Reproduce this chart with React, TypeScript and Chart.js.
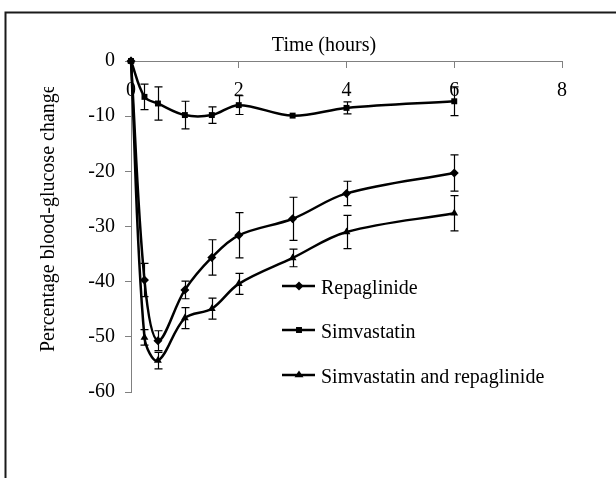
import React, { useEffect, useRef } from "react";
import { Chart, registerables } from "chart.js";

Chart.register(...registerables);

// ---- data ----
const hours = [0, 0.25, 0.5, 1, 1.5, 2, 3, 4, 6];
const seriesNames = ["Repaglinide", "Simvastatin", "Simvastatin and repaglinide"];
const repaglinide = [0, -39.7, -50.7, -41.5, -35.6, -31.6, -28.6, -24.0, -20.3];
const repaglinideErr = [0, 3.0, 1.8, 1.6, 3.2, 4.1, 3.9, 2.2, 3.3];
const simvastatin = [0, -6.5, -7.7, -9.8, -9.8, -8.0, -9.9, -8.5, -7.3];
const simvastatinErr = [0, 2.3, 3.0, 2.5, 1.5, 1.7, 0, 1.1, 2.6];
const combination = [0, -50.1, -54.3, -46.6, -44.9, -40.4, -35.7, -31.0, -27.6];
const combinationErr = [0, 1.4, 1.5, 1.9, 1.9, 1.9, 1.6, 3.0, 3.2];
const pointStyles = ["rectRot", "rect", "triangle"];
const xTitle = "Time (hours)";
const yTitle = "Percentage blood-glucose change";
const xMin = 0;
const xMax = 8;
const xStep = 2;
const yMin = -60;
const yMax = 0;
const yStep = 10;

const FONT = "'Liberation Serif', 'Times New Roman', serif";

const errorBarsPlugin = {
  id: "errorBars",
  afterDatasetsDraw(chart: any) {
    const ctx = chart.ctx;
    const yScale = chart.scales.y;
    ctx.save();
    ctx.strokeStyle = "#000";
    ctx.lineWidth = 1.2;
    chart.data.datasets.forEach((ds: any, di: number) => {
      const meta = chart.getDatasetMeta(di);
      const errs: number[] = ds.errors || [];
      meta.data.forEach((pt: any, i: number) => {
        const e = errs[i];
        if (!e) return;
        const v = ds.data[i].y;
        const yTop = yScale.getPixelForValue(v + e);
        const yBot = yScale.getPixelForValue(v - e);
        const x = Math.round(pt.x) + 0.5;
        ctx.beginPath();
        ctx.moveTo(x, yTop);
        ctx.lineTo(x, yBot);
        ctx.moveTo(x - 4, yTop);
        ctx.lineTo(x + 4, yTop);
        ctx.moveTo(x - 4, yBot);
        ctx.lineTo(x + 4, yBot);
        ctx.stroke();
      });
    });
    ctx.restore();
  },
};

function drawMarker(ctx: CanvasRenderingContext2D, style: string, x: number, y: number, r: number) {
  ctx.beginPath();
  if (style === "rectRot") {
    ctx.moveTo(x - r, y);
    ctx.lineTo(x, y - r);
    ctx.lineTo(x + r, y);
    ctx.lineTo(x, y + r);
  } else if (style === "rect") {
    const s = Math.SQRT1_2 * r;
    ctx.rect(x - s, y - s, 2 * s, 2 * s);
  } else {
    ctx.moveTo(x, y - r);
    ctx.lineTo(x + r, y + r * 0.5);
    ctx.lineTo(x - r, y + r * 0.5);
  }
  ctx.closePath();
  ctx.fill();
}

const decorPlugin = {
  id: "decor",
  beforeDraw(chart: any) {
    const ctx = chart.ctx;
    ctx.save();
    ctx.strokeStyle = "#1a1a1a";
    ctx.lineWidth = 2;
    ctx.strokeRect(5.5, 12.5, 1000, 1000);
    ctx.restore();
  },
  afterDraw(chart: any) {
    const ctx = chart.ctx;
    const area = chart.chartArea;
    ctx.save();
    ctx.fillStyle = "#000";
    ctx.font = `20px ${FONT}`;
    // x-axis title above the axis line
    ctx.textAlign = "center";
    ctx.textBaseline = "alphabetic";
    ctx.fillText(xTitle, area.left + 193, area.top - 10);

    // y-axis title, rotated, clipped at its top like the original
    ctx.save();
    ctx.beginPath();
    ctx.rect(0, area.top + 26, area.left - 40, 1000);
    ctx.clip();
    ctx.translate(54, area.top + 291);
    ctx.rotate(-Math.PI / 2);
    ctx.textAlign = "left";
    ctx.textBaseline = "alphabetic";
    ctx.fillText(yTitle, 0, 0);
    ctx.restore();

    // legend inside plot area
    const lx = area.left + 151;
    const ys = [area.top + 225, area.top + 269, area.top + 314];
    chart.data.datasets.forEach((ds: any, i: number) => {
      const y = ys[i];
      ctx.strokeStyle = "#000";
      ctx.lineWidth = 2.5;
      ctx.beginPath();
      ctx.moveTo(lx, y);
      ctx.lineTo(lx + 33, y);
      ctx.stroke();
      ctx.fillStyle = "#000";
      drawMarker(ctx, ds.pointStyle, lx + 17, y, ds.pointRadius);
      ctx.textAlign = "left";
      ctx.textBaseline = "alphabetic";
      ctx.fillText(ds.label, lx + 39, y + 8);
    });
    ctx.restore();
  },
};

export default function App() {
  const ref = useRef<HTMLCanvasElement | null>(null);

  useEffect(() => {
    if (!ref.current) return;
    const values = [repaglinide, simvastatin, combination];
    const errors = [repaglinideErr, simvastatinErr, combinationErr];
    const radii = [4.5, 4.2, 4.5];
    const chart = new Chart(ref.current, {
      type: "line",
      data: {
        datasets: seriesNames.map((name, i) => ({
          label: name,
          data: hours.map((h, j) => ({ x: h, y: values[i][j] })),
          errors: errors[i],
          borderColor: "#000",
          backgroundColor: "#000",
          borderWidth: 2.5,
          tension: 0.35,
          pointStyle: pointStyles[i],
          pointRadius: radii[i],
          pointBorderWidth: 0,
          pointBackgroundColor: "#000",
          clip: 10,
        })) as any,
      },
      options: {
        animation: false,
        responsive: false,
        devicePixelRatio: 1,
        layout: { padding: { top: 61, right: 54, bottom: 86, left: 0 } },
        plugins: {
          legend: { display: false },
          tooltip: { enabled: false },
          title: { display: false },
        },
        scales: {
          x: {
            type: "linear",
            position: { y: 0 } as any,
            min: xMin,
            max: xMax,
            ticks: {
              stepSize: xStep,
              color: "#000",
              padding: 12,
              font: { family: FONT, size: 20 },
            },
            grid: { drawOnChartArea: false, drawTicks: true, tickLength: 6, color: "#808080" },
            border: { color: "#808080", width: 1 },
          },
          y: {
            type: "linear",
            position: "left",
            min: yMin,
            max: yMax,
            ticks: {
              stepSize: yStep,
              color: "#000",
              padding: 10,
              font: { family: FONT, size: 20 },
            },
            grid: { drawOnChartArea: false, drawTicks: true, tickLength: 6, color: "#808080" },
            border: { color: "#808080", width: 1 },
            title: { display: false },
            afterFit: (s: any) => {
              s.width = 131;
            },
          },
        },
      } as any,
      plugins: [errorBarsPlugin, decorPlugin],
    });
    return () => chart.destroy();
  }, []);

  return (
    <div style={{ position: "absolute", left: 0, top: 0, width: 616, height: 478 }}>
      <canvas ref={ref} width={616} height={478} style={{ display: "block" }} />
    </div>
  );
}
